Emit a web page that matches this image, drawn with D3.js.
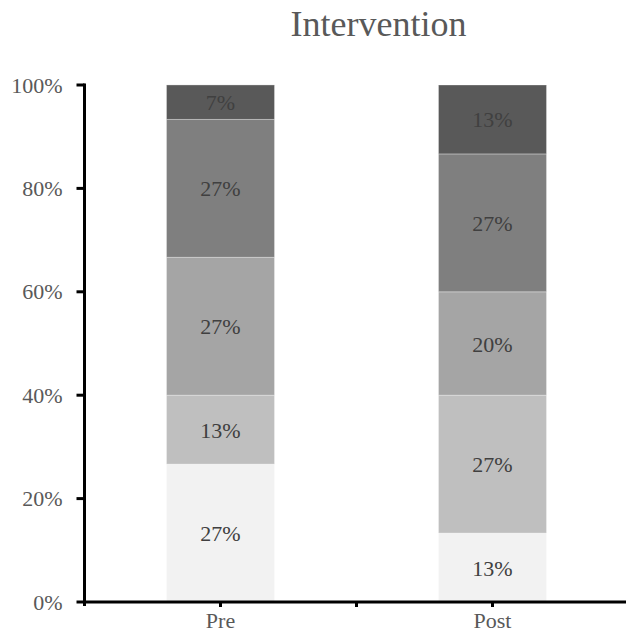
<!DOCTYPE html>
<html>
<head>
<meta charset="utf-8">
<script src="https://cdn.jsdelivr.net/npm/d3@7"></script>
<style>
  html, body { margin: 0; padding: 0; background: #fff; }
  svg { display: block; font-family: "Liberation Serif", "Times New Roman", serif; }
</style>
</head>
<body>
<svg id="chart" width="626" height="634"></svg>
<script>
// Phases on the x axis
const categories = ["Pre", "Post"];
// Stacked response levels, bottom to top (share of respondents, %)
const levels = ["L1", "L2", "L3", "L4", "L5"];
const preValues  = [26.67, 13.33, 26.67, 26.67, 6.67];
const postValues = [13.33, 26.67, 20.00, 26.67, 13.33];
const levelColors = ["#f2f2f2", "#bfbfbf", "#a5a5a5", "#7f7f7f", "#595959"];
const yTicks = [0, 20, 40, 60, 80, 100];
const title = "Intervention";

const svg = d3.select("#chart");
const y0 = 602, y1 = 85, axisX = 84.5;

const x = d3.scaleBand().domain(categories).range([axisX, 628.5]).paddingInner(0).paddingOuter(0);
const y = d3.scaleLinear().domain([0, 100]).range([y0, y1]);
const barW = 108;

const rows = categories.map((c, i) => {
  const r = { cat: c };
  const vals = i === 0 ? preValues : postValues;
  levels.forEach((l, j) => r[l] = vals[j]);
  return r;
});
const stacked = d3.stack().keys(levels)(rows);

// bars
const g = svg.append("g");
stacked.forEach((layer, li) => {
  layer.forEach(d => {
    const cx = x(d.data.cat) + x.bandwidth() / 2;
    g.append("rect")
      .attr("x", cx - barW / 2)
      .attr("y", y(d[1]))
      .attr("width", barW)
      .attr("height", y(d[0]) - y(d[1]))
      .attr("fill", levelColors[li])
      .attr("stroke", "rgba(255,255,255,0.3)")
      .attr("stroke-width", 1);
  });
});

// segment labels
stacked.forEach((layer, li) => {
  layer.forEach(d => {
    const cx = x(d.data.cat) + x.bandwidth() / 2;
    const v = d[1] - d[0];
    g.append("text")
      .attr("x", cx)
      .attr("y", (y(d[0]) + y(d[1])) / 2 + 8)
      .attr("text-anchor", "middle")
      .attr("font-size", 22)
      .attr("fill", "#404040")
      .text(Math.round(v) + "%");
  });
});

// y axis
const yAxis = svg.append("g").attr("transform", `translate(${axisX},0)`);
yAxis.append("line").attr("x1", 0).attr("x2", 0).attr("y1", y1 - 1.5).attr("y2", y0 + 4)
  .attr("stroke", "#000").attr("stroke-width", 3);
yTicks.forEach(t => {
  yAxis.append("line").attr("x1", -8).attr("x2", 0).attr("y1", y(t)).attr("y2", y(t))
    .attr("stroke", "#000").attr("stroke-width", 3);
  yAxis.append("text").attr("x", -22).attr("y", y(t) + 7.5).attr("text-anchor", "end")
    .attr("font-size", 22).attr("fill", "#595959").text(t + "%");
});

// x axis
const xAxis = svg.append("g");
xAxis.append("line").attr("x1", axisX - 1.5).attr("x2", 626).attr("y1", y0).attr("y2", y0)
  .attr("stroke", "#000").attr("stroke-width", 3);
const tickXs = [];
categories.forEach((c, i) => {
  tickXs.push(x(c) + x.bandwidth() / 2);
  if (i > 0) tickXs.push(x(c));
});
tickXs.forEach(tx => {
  xAxis.append("line").attr("x1", tx).attr("x2", tx).attr("y1", y0).attr("y2", y0 + 5)
    .attr("stroke", "#000").attr("stroke-width", 3);
});
categories.forEach(c => {
  xAxis.append("text").attr("x", x(c) + x.bandwidth() / 2).attr("y", 628)
    .attr("text-anchor", "middle").attr("font-size", 22).attr("fill", "#595959").text(c);
});

// title
svg.append("text").attr("x", 378.5).attr("y", 36).attr("text-anchor", "middle")
  .attr("font-size", 36).attr("fill", "#595959").text(title);
</script>
</body>
</html>
